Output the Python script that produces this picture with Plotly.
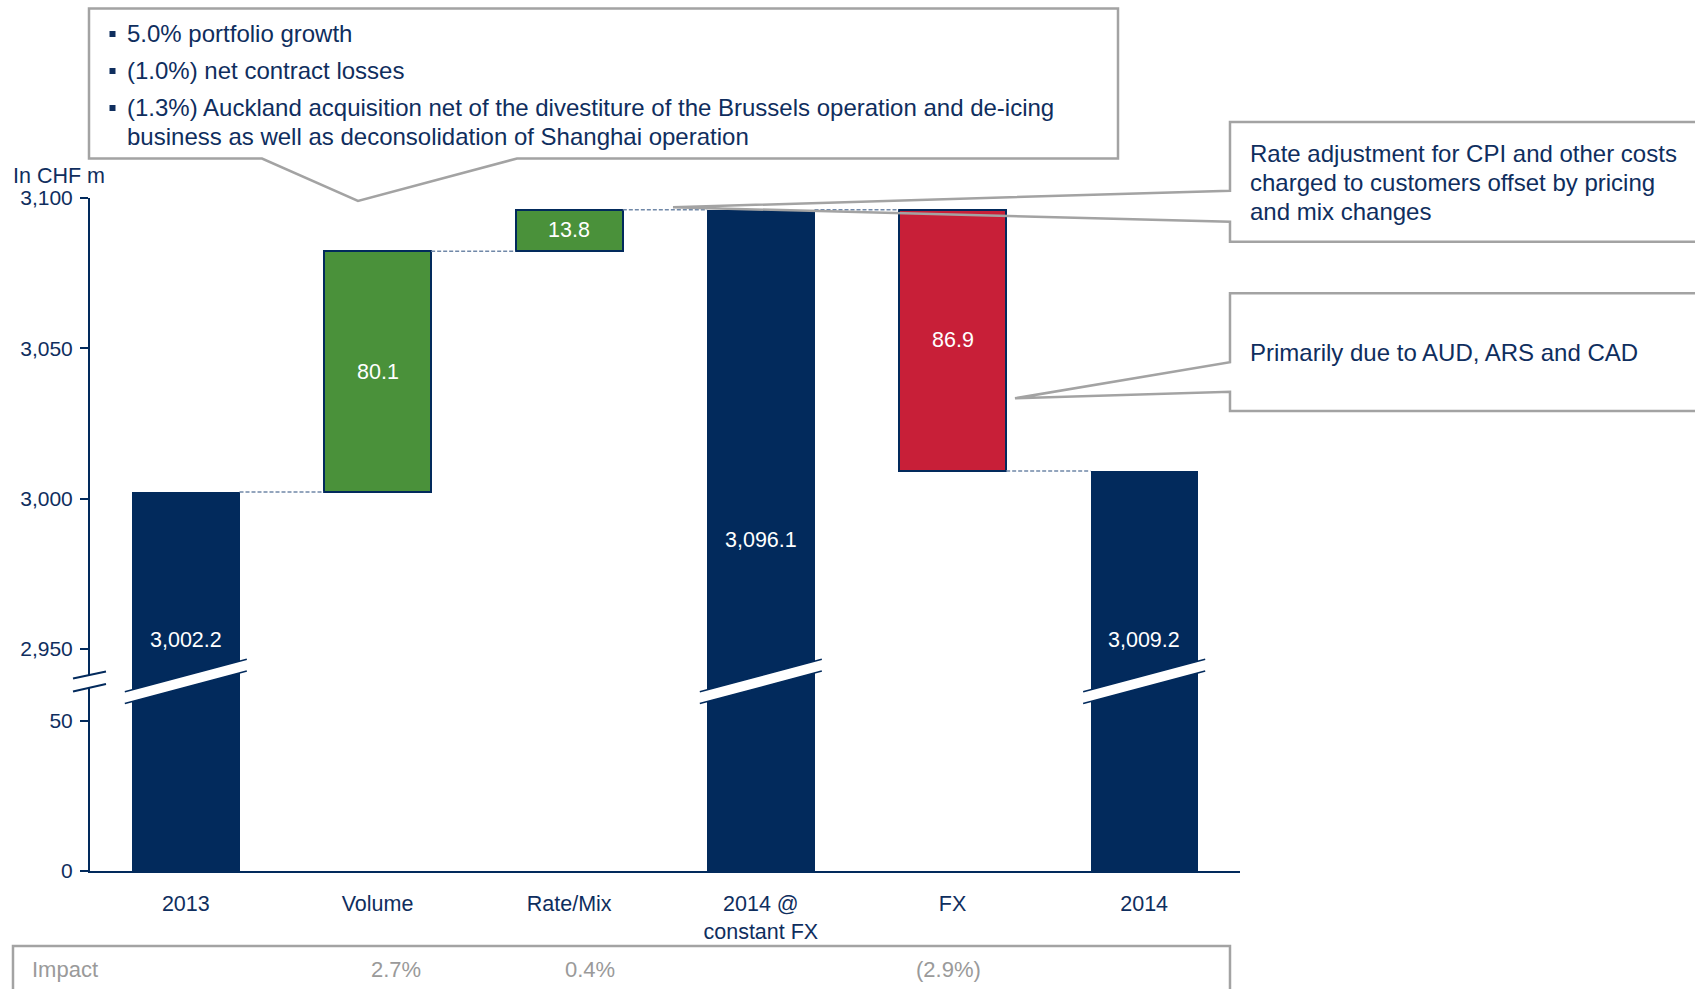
import plotly.graph_objects as go

# ---------------- data ----------------
categories = ["2013", "Volume", "Rate/Mix", "2014 @<br>constant FX", "FX", "2014"]
values = [3002.2, 80.1, 13.8, 3096.1, -86.9, 3009.2]
kinds = ["total", "delta", "delta", "total", "delta", "total"]
impact = ["", "2.7%", "0.4%", "", "(2.9%)", ""]
upper_ticks = [2950, 3000, 3050, 3100]
lower_ticks = [0, 50]
unit_label = "In CHF m"
volume_notes = [
    "5.0% portfolio growth",
    "(1.0%) net contract losses",
    "(1.3%) Auckland acquisition net of the divestiture of the Brussels operation and de-icing",
    "business as well as deconsolidation of Shanghai operation",
]
rate_note = ["Rate adjustment for CPI and other costs",
             "charged to customers offset by pricing",
             "and mix changes"]
fx_note = "Primarily due to AUD, ARS and CAD"

# ---------------- style ----------------
NAVY = "#022A5C"
GREEN = "#4A913A"
RED = "#C81F38"
TXT = "#0F2E5E"
GRAY = "#A3A3A3"
FONT = "Liberation Sans, Arial, sans-serif"

W, H = 1695, 989
L, R, T, B = 90, 1240, 198, 871
PW, PH = R - L, B - T
K = 3.007            # px per unit on both axis segments
BREAK_PX = 682       # pixel row of the axis break
BAR_W = 0.56
TOP_VAL = 3100


def pp(x, y):
    """pixel -> paper"""
    return (x - L) / PW, (B - y) / PH


def val_to_px(v):
    return T + (TOP_VAL - v) * K


# waterfall geometry
bases, heights, colors, levels, lw = [], [], [], [], []
level = 0.0
for v, k in zip(values, kinds):
    if k == "total":
        bases.append(0)
        heights.append(v)
        colors.append(NAVY)
        lw.append(0)
        level = v
    else:
        bases.append(level)
        heights.append(v)
        colors.append(GREEN if v > 0 else RED)
        lw.append(2)
        level += v
    levels.append(level)

idx = list(range(len(categories)))
upper_range = [TOP_VAL - (BREAK_PX - T) / K, TOP_VAL]
lower_range = [0, (B - BREAK_PX) / K]
d = (B - BREAK_PX) / PH

fig = go.Figure()

# upper segment bars
fig.add_trace(go.Bar(
    x=idx, y=heights, base=bases, yaxis="y2", width=BAR_W,
    marker=dict(color=colors, line=dict(color=NAVY, width=lw)),
    hoverinfo="skip", showlegend=False))

# lower segment bars (totals only)
tot_idx = [i for i in idx if kinds[i] == "total"]
fig.add_trace(go.Bar(
    x=tot_idx, y=[values[i] for i in tot_idx], base=[0] * len(tot_idx),
    yaxis="y", width=BAR_W, marker=dict(color=NAVY, line=dict(width=0)),
    hoverinfo="skip", showlegend=False))

# connectors
cx, cy = [], []
for i in range(len(idx) - 1):
    cx += [i + BAR_W / 2, i + 1 - BAR_W / 2, None]
    cy += [levels[i], levels[i], None]
fig.add_trace(go.Scatter(
    x=cx, y=cy, yaxis="y2", mode="lines",
    line=dict(color="#7088A8", width=1.5, dash="4px,2px"),
    hoverinfo="skip", showlegend=False))

annotations = []
shapes = []

# value labels
for i, (v, k) in enumerate(zip(values, kinds)):
    if k == "total":
        top_px = val_to_px(v)
        ly = (top_px + B) / 2
        if abs(ly - BREAK_PX) < 40:
            ly = BREAK_PX - 42
        _, yp = pp(0, ly)
        annotations.append(dict(x=i, y=yp, xref="x", yref="paper",
                                text=f"{v:,.1f}", showarrow=False,
                                font=dict(color="white", size=21.5, family=FONT),
                                xanchor="center", yanchor="middle"))
    else:
        annotations.append(dict(x=i, y=bases[i] + v / 2, xref="x", yref="y2",
                                text=f"{abs(v):.1f}", showarrow=False,
                                font=dict(color="white", size=21.5, family=FONT),
                                xanchor="center", yanchor="middle"))

# axis break marks on y axis
def path_px(points, close=True):
    s = ""
    for j, (x, y) in enumerate(points):
        xp, yp = pp(x, y)
        s += ("M" if j == 0 else "L") + f"{xp:.5f},{yp:.5f} "
    return s + ("Z" if close else "")

ax_up = [(73, 678.5), (106, 671.5)]
ax_lo = [(73, 691.5), (106, 684.0)]
shapes.append(dict(type="path", xref="paper", yref="paper",
                   path=path_px([ax_up[0], ax_up[1], ax_lo[1], ax_lo[0]]),
                   fillcolor="white", line=dict(width=0), layer="above"))
for seg in (ax_up, ax_lo):
    shapes.append(dict(type="path", xref="paper", yref="paper",
                       path=path_px(seg, close=False),
                       line=dict(color=NAVY, width=2), layer="above"))

# breaks across total bars
for i in tot_idx:
    ccx = L + (i + 0.5) * PW / len(idx)
    hl = 61
    up = [(ccx - hl, 675.5 + 16.2), (ccx + hl, 675.5 - 16.2)]
    lo = [(ccx - hl, 687.3 + 16.2), (ccx + hl, 687.3 - 16.2)]
    shapes.append(dict(type="path", xref="paper", yref="paper",
                       path=path_px([up[0], up[1], lo[1], lo[0]]),
                       fillcolor="white", line=dict(width=0), layer="above"))
    for seg in (up, lo):
        shapes.append(dict(type="path", xref="paper", yref="paper",
                           path=path_px(seg, close=False),
                           line=dict(color=NAVY, width=1.5), layer="above"))

# callout boxes
shapes.append(dict(type="path", xref="paper", yref="paper",
                   path=path_px([(89, 8.5), (1118, 8.5), (1118, 158.5), (517, 158.5),
                                 (358, 201), (262, 158.5), (89, 158.5)]),
                   line=dict(color=GRAY, width=2.5), layer="above"))
shapes.append(dict(type="path", xref="paper", yref="paper",
                   path=path_px([(1720, 122), (1230, 122), (1230, 190.7), (673, 207.3),
                                 (1230, 221.7), (1230, 241.7), (1720, 241.7)], close=False),
                   line=dict(color=GRAY, width=2.5), layer="above"))
shapes.append(dict(type="path", xref="paper", yref="paper",
                   path=path_px([(1720, 293.3), (1230, 293.3), (1230, 362.3), (1015, 398.3),
                                 (1230, 391.7), (1230, 411), (1720, 411)], close=False),
                   line=dict(color=GRAY, width=2.5), layer="above"))
# impact box
shapes.append(dict(type="path", xref="paper", yref="paper",
                   path=path_px([(13, 1010), (13, 946), (1230, 946), (1230, 1010)], close=False),
                   line=dict(color=GRAY, width=2.5), layer="above"))

# bullets and callout text (top box)
note_rows = [33, 70, 107, 136]
bullet_rows = [True, True, True, False]
for txt, ry, bl in zip(volume_notes, note_rows, bullet_rows):
    xp, yp = pp(124.5, ry)
    annotations.append(dict(x=xp, y=yp, xref="paper", yref="paper", text=txt,
                            showarrow=False, xanchor="left", yanchor="middle",
                            font=dict(color=TXT, size=24, family=FONT)))
    if bl:
        x0, y0 = pp(109.5, ry - 2)
        x1, y1 = pp(115.5, ry + 4)
        shapes.append(dict(type="rect", xref="paper", yref="paper",
                           x0=x0, x1=x1, y0=y0, y1=y1, fillcolor=TXT,
                           line=dict(width=0)))

for txt, ry in zip(rate_note, [153.3, 182.7, 211.7]):
    xp, yp = pp(1248, ry)
    annotations.append(dict(x=xp, y=yp, xref="paper", yref="paper", text=txt,
                            showarrow=False, xanchor="left", yanchor="middle",
                            font=dict(color=TXT, size=24, family=FONT)))
xp, yp = pp(1248, 352.3)
annotations.append(dict(x=xp, y=yp, xref="paper", yref="paper", text=fx_note,
                        showarrow=False, xanchor="left", yanchor="middle",
                        font=dict(color=TXT, size=24, family=FONT)))

# unit label
xp, yp = pp(11, 176)
annotations.append(dict(x=xp, y=yp, xref="paper", yref="paper", text=unit_label,
                        showarrow=False, xanchor="left", yanchor="middle",
                        font=dict(color=TXT, size=21.5, family=FONT)))

# impact row
xp, yp = pp(30, 969)
annotations.append(dict(x=xp, y=yp, xref="paper", yref="paper", text="Impact",
                        showarrow=False, xanchor="left", yanchor="middle",
                        font=dict(color="#9A9A9A", size=22, family=FONT)))
impact_shift = [0, 18, 21, 0, -4, 0]
for i, t in enumerate(impact):
    if t:
        annotations.append(dict(x=i, y=yp, xref="x", yref="paper", text=t,
                                xshift=impact_shift[i],
                                showarrow=False, xanchor="center", yanchor="middle",
                                font=dict(color="#9A9A9A", size=22, family=FONT)))

axis_common = dict(showgrid=False, zeroline=False, showline=True, linecolor=NAVY,
                   linewidth=2, ticks="outside", ticklen=8, tickwidth=2,
                   tickcolor=NAVY, tickformat=",d",
                   tickfont=dict(color=TXT, size=21, family=FONT),
                   ticklabelstandoff=3, anchor="x")

fig.update_layout(
    width=W, height=H,
    margin=dict(l=L, r=W - R, t=T, b=H - B, pad=0),
    paper_bgcolor="white", plot_bgcolor="white",
    barmode="overlay", bargap=0,
    font=dict(family=FONT, color=TXT),
    xaxis=dict(range=[-0.5, len(idx) - 0.5], tickvals=idx, ticktext=categories,
               showgrid=False, zeroline=False, showline=True, linecolor=NAVY,
               linewidth=2, ticks="", anchor="y", ticklabelstandoff=12,
               tickfont=dict(color=TXT, size=21.5, family=FONT)),
    yaxis=dict(domain=[0, d], range=lower_range, tickvals=lower_ticks, **axis_common),
    yaxis2=dict(domain=[d, 1], range=upper_range, tickvals=upper_ticks, **axis_common),
    annotations=annotations,
    shapes=shapes,
)

fig.write_html("out.html", config={"displayModeBar": False},
               post_script="document.body.style.margin='0';document.body.style.overflow='hidden';")
